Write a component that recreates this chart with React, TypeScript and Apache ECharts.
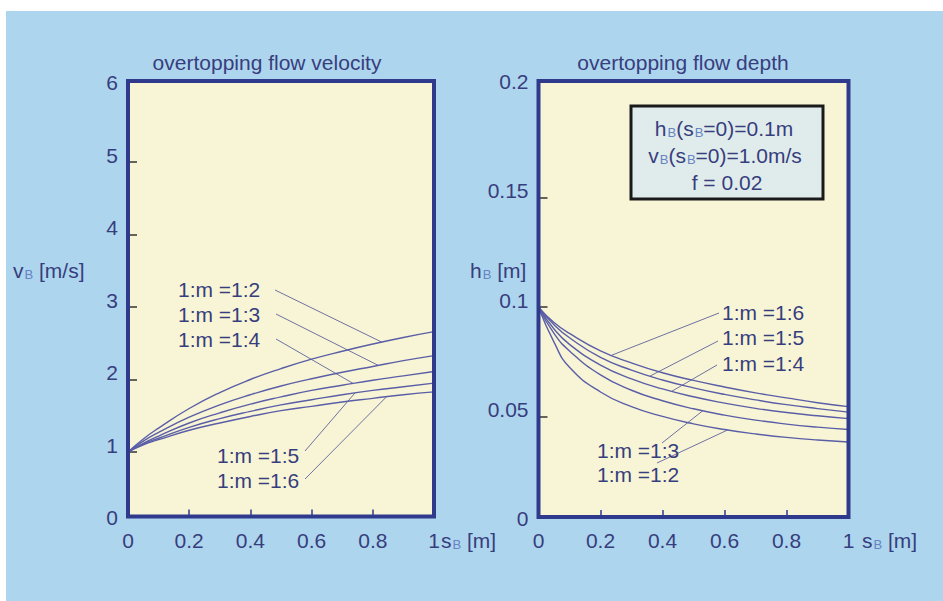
import React, { useEffect, useRef } from "react";
import * as echarts from "echarts";

// ---------- data ----------
const sPoints = [0, 0.05, 0.1, 0.2, 0.3, 0.4, 0.5, 0.6, 0.7, 0.8, 0.9, 1.0];
const slopeNames = ["1:m =1:2", "1:m =1:3", "1:m =1:4", "1:m =1:5", "1:m =1:6"];

// overtopping flow velocity v_B [m/s]
const velocity_1_2 = [1.0, 1.18, 1.33, 1.6, 1.82, 2.0, 2.15, 2.28, 2.39, 2.49, 2.58, 2.66];
const velocity_1_3 = [1.0, 1.15, 1.27, 1.48, 1.65, 1.79, 1.91, 2.01, 2.1, 2.18, 2.26, 2.33];
const velocity_1_4 = [1.0, 1.12, 1.22, 1.4, 1.54, 1.66, 1.76, 1.85, 1.92, 1.99, 2.05, 2.11];
const velocity_1_5 = [1.0, 1.11, 1.19, 1.34, 1.46, 1.56, 1.65, 1.72, 1.79, 1.85, 1.9, 1.95];
const velocity_1_6 = [1.0, 1.1, 1.17, 1.3, 1.4, 1.49, 1.57, 1.63, 1.69, 1.74, 1.79, 1.83];

// overtopping flow depth h_B [m]
const depth_1_2 = [0.1, 0.084, 0.0725, 0.0612, 0.0545, 0.05, 0.0466, 0.044, 0.042, 0.0404, 0.0392, 0.0383];
const depth_1_3 = [0.1, 0.088, 0.08, 0.069, 0.062, 0.0572, 0.0535, 0.0506, 0.0483, 0.0465, 0.0451, 0.044];
const depth_1_4 = [0.1, 0.09, 0.083, 0.0735, 0.0672, 0.0626, 0.059, 0.0561, 0.0537, 0.0518, 0.0503, 0.049];
const depth_1_5 = [0.1, 0.092, 0.086, 0.077, 0.0712, 0.0667, 0.0631, 0.0601, 0.0576, 0.0554, 0.0536, 0.052];
const depth_1_6 = [0.1, 0.093, 0.088, 0.08, 0.0745, 0.07, 0.0665, 0.0635, 0.0608, 0.0585, 0.0563, 0.0545];

// where each label's leader line meets its curve (s_B)
const velocityLeaderS = [0.829, 0.818, 0.736, 0.742, 0.845];
const depthLeaderS = [0.61, 0.53, 0.43, 0.36, 0.236];

// axis ticks
const sTicks = [0.2, 0.4, 0.6, 0.8];
const vTicks = [1, 2, 3, 4, 5];
const hTicks = [0.05, 0.1, 0.15];

// ---------- layout / style ----------
const FONT = "'Liberation Sans', Arial, Helvetica, sans-serif";
const TEXT = "#373e7d";
const SUB = "#6683c2";
const FRAME = "#2f3a8c";
const CURVE = "#5a5ea6";
const LEADER = "#6f71a2";
const BLUE = "#aed5ee";
const CREAM = "#f8f5d6";

const L = { left: 128, top: 89.5, width: 306, height: 435, frameTop: 81, frameBottom: 516.5 };
const R = { left: 538.5, top: 88.7, width: 310, height: 437, frameTop: 81, frameBottom: 517 };

// label placement in pixels: [x(left), y(center), leaderStartX, leaderStartY]
const velocityLabelPos = [
  [178, 289, 275, 290],
  [178, 314, 276, 314],
  [178, 339, 276, 339],
  [217, 455, 305, 451],
  [217, 480, 305, 479],
];
const depthLabelPos = [
  [597, 474, 657, 463],
  [597, 450, 662, 443],
  [722, 363, 717, 365],
  [722, 337, 718, 341],
  [722, 312, 719, 313],
];

const interp = (ys: number[], s: number) => {
  for (let i = 0; i < sPoints.length - 1; i++) {
    if (s >= sPoints[i] && s <= sPoints[i + 1]) {
      const t = (s - sPoints[i]) / (sPoints[i + 1] - sPoints[i]);
      return ys[i] + t * (ys[i + 1] - ys[i]);
    }
  }
  return ys[ys.length - 1];
};

const pxToLeft = (px: number, py: number) => [(px - L.left) / L.width, ((L.top + L.height - py) / L.height) * 6];
const pxToRight = (px: number, py: number) => [(px - R.left) / R.width, ((R.top + R.height - py) / R.height) * 0.2];

const rich = {
  m: { fontSize: 21, fontFamily: FONT, fill: TEXT },
  s: { fontSize: 13, fontFamily: FONT, fill: SUB, padding: [9, 0, 0, 1] },
};

export default function App() {
  const ref = useRef<HTMLDivElement>(null);

  useEffect(() => {
    if (!ref.current) return;
    const chart = echarts.init(ref.current, undefined, { renderer: "svg" });

    const velocities = [velocity_1_2, velocity_1_3, velocity_1_4, velocity_1_5, velocity_1_6];
    const depths = [depth_1_2, depth_1_3, depth_1_4, depth_1_5, depth_1_6];

    const curveSeries = (arr: number[], idx: number, name: string) => ({
      type: "line",
      name,
      xAxisIndex: idx,
      yAxisIndex: idx,
      data: sPoints.map((s, i) => [s, arr[i]]),
      smooth: 0.5,
      symbol: "none",
      silent: true,
      lineStyle: { color: CURVE, width: 1.4 },
      z: 3,
    });

    const leaderSeries = (start: number[], end: number[], idx: number) => ({
      type: "line",
      xAxisIndex: idx,
      yAxisIndex: idx,
      data: [start, end],
      symbol: "none",
      silent: true,
      lineStyle: { color: LEADER, width: 1 },
      z: 2,
    });

    const series: any[] = [];
    velocities.forEach((arr, i) => series.push(curveSeries(arr, 0, "v " + slopeNames[i])));
    depths.forEach((arr, i) => series.push(curveSeries(arr, 1, "h " + slopeNames[i])));
    velocities.forEach((arr, i) => {
      const p = velocityLabelPos[i];
      const s = velocityLeaderS[i];
      series.push(leaderSeries(pxToLeft(p[2], p[3]), [s, interp(arr, s)], 0));
    });
    depths.forEach((arr, i) => {
      const p = depthLabelPos[i];
      const s = depthLeaderS[i];
      series.push(leaderSeries(pxToRight(p[2], p[3]), [s, interp(arr, s)], 1));
    });

    const labelTexts: any[] = [];
    velocityLabelPos.forEach((p, i) =>
      labelTexts.push({
        type: "text",
        x: p[0],
        y: p[1],
        z: 5,
        style: { text: slopeNames[i], fontSize: 21, fontFamily: FONT, fill: TEXT, align: "left", verticalAlign: "middle" },
      })
    );
    depthLabelPos.forEach((p, i) =>
      labelTexts.push({
        type: "text",
        x: p[0],
        y: p[1],
        z: 5,
        style: { text: slopeNames[i], fontSize: 21, fontFamily: FONT, fill: TEXT, align: "left", verticalAlign: "middle" },
      })
    );

    const richText = (text: string, x: number, y: number, align = "left") => ({
      type: "text",
      x,
      y,
      z: 5,
      style: { text, rich, align, verticalAlign: "middle", fontSize: 21, fontFamily: FONT, fill: TEXT },
    });

    const axisLabel = {
      color: TEXT,
      fontSize: 21,
      fontFamily: FONT,
    };

    chart.setOption({
      animation: false,
      backgroundColor: "#ffffff",
      grid: [
        { left: L.left, top: L.top, width: L.width, height: L.height },
        { left: R.left, top: R.top, width: R.width, height: R.height },
      ],
      xAxis: [0, 1].map((g) => ({
        type: "value",
        gridIndex: g,
        min: 0,
        max: 1,
        interval: 0.2,
        offset: g === 0 ? -8 : -8.7,
        axisLine: { show: false },
        axisTick: { show: true, inside: true, length: 7, customValues: sTicks, lineStyle: { color: FRAME, width: 1.5 } },
        axisLabel: { ...axisLabel, margin: 13 },
        splitLine: { show: false },
      })),
      yAxis: [
        {
          type: "value",
          gridIndex: 0,
          min: 0,
          max: 6,
          interval: 1,
          axisLine: { show: false },
          axisTick: { show: true, inside: true, length: 9, customValues: vTicks, lineStyle: { color: "#333333", width: 1.5 } },
          axisLabel: { ...axisLabel, margin: 10, verticalAlign: "bottom", lineHeight: 14 },
          splitLine: { show: false },
        },
        {
          type: "value",
          gridIndex: 1,
          min: 0,
          max: 0.2,
          interval: 0.05,
          axisLine: { show: false },
          axisTick: { show: true, inside: true, length: 9, customValues: hTicks, lineStyle: { color: "#333333", width: 1.5 } },
          axisLabel: { ...axisLabel, margin: 10, verticalAlign: "bottom", lineHeight: 14 },
          splitLine: { show: false },
        },
      ],
      graphic: [
        { type: "rect", z: -10, shape: { x: 6, y: 11, width: 937, height: 590 }, style: { fill: BLUE } },
        {
          type: "rect",
          z: -5,
          shape: { x: L.left, y: L.frameTop, width: L.width, height: L.frameBottom - L.frameTop },
          style: { fill: CREAM },
        },
        {
          type: "rect",
          z: -5,
          shape: { x: R.left, y: R.frameTop, width: R.width, height: R.frameBottom - R.frameTop },
          style: { fill: CREAM },
        },
        {
          type: "rect",
          z: 10,
          shape: { x: L.left, y: L.frameTop, width: L.width, height: L.frameBottom - L.frameTop },
          style: { fill: "none", stroke: FRAME, lineWidth: 4 },
        },
        {
          type: "rect",
          z: 10,
          shape: { x: R.left, y: R.frameTop, width: R.width, height: R.frameBottom - R.frameTop },
          style: { fill: "none", stroke: FRAME, lineWidth: 4 },
        },
        {
          type: "text",
          x: 267,
          y: 62,
          style: { text: "overtopping flow velocity", fontSize: 21, fontFamily: FONT, fill: TEXT, align: "center", verticalAlign: "middle" },
        },
        {
          type: "text",
          x: 683,
          y: 62,
          style: { text: "overtopping flow depth", fontSize: 21, fontFamily: FONT, fill: TEXT, align: "center", verticalAlign: "middle" },
        },
        richText("{m|v}{s|B}{m| [m/s]}", 13, 270),
        richText("{m|h}{s|B}{m| [m]}", 470, 270),
        richText("{m|s}{s|B}{m| [m]}", 441, 540),
        richText("{m|s}{s|B}{m| [m]}", 862, 540),
        {
          type: "rect",
          z: 6,
          shape: { x: 631, y: 106, width: 192, height: 93 },
          style: { fill: "#e0ecec", stroke: "#1a1a1a", lineWidth: 3 },
        },
        { ...richText("{m|h}{s|B}{m|(s}{s|B}{m|=0)=0.1m}", 724, 128, "center"), z: 7 },
        { ...richText("{m|v}{s|B}{m|(s}{s|B}{m|=0)=1.0m/s}", 725, 155, "center"), z: 7 },
        { ...richText("{m|f = 0.02}", 727, 182, "center"), z: 7 },
        ...labelTexts,
      ],
      series,
    });

    return () => chart.dispose();
  }, []);

  return (
    <div
      ref={ref}
      style={{ position: "absolute", left: 0, top: 0, width: 943, height: 601 }}
    />
  );
}
